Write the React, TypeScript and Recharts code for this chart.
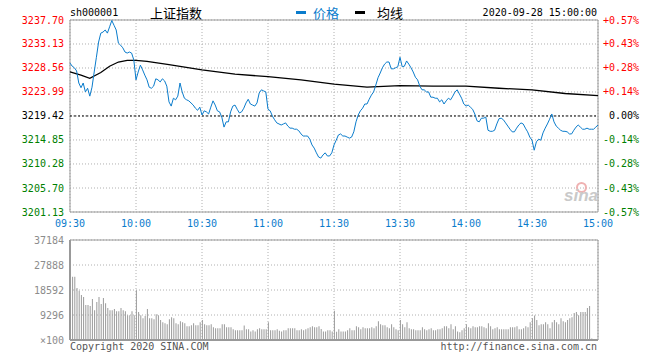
import { ComposedChart, Line, Bar, XAxis, YAxis, CartesianGrid, ReferenceLine, ReferenceArea } from 'recharts'

const MONO = '"DejaVu Sans Mono", "Liberation Mono", monospace'
const CJK = '"Noto Sans CJK SC", sans-serif'
const BLUE = '#0a7ccc'
const PRE_CLOSE = 3219.42

const priceTicks = [3201.13, 3205.7, 3210.28, 3214.85, 3219.42, 3223.99, 3228.56, 3233.13, 3237.7]
const volTicks = [0, 9296, 18592, 27888, 37184]
const timeTicks = [0, 30, 60, 90, 120, 150, 180, 210, 240]
const timeLabels = ['09:30', '10:00', '10:30', '11:00', '11:30', '13:30', '14:00', '14:30', '15:00']

// one value per minute, 09:30 .. 11:30 | 13:00 .. 15:00
const prices = [
  3229.5, 3228.9, 3228.6, 3228.0, 3225.7, 3224.8, 3225.7, 3224.0, 3224.7, 3223.2,
  3224.9, 3227.8, 3230.6, 3233.5, 3235.2, 3235.4, 3235.8, 3235.2, 3236.4, 3237.6,
  3236.7, 3235.8, 3233.3, 3232.9, 3232.4, 3231.6, 3231.4, 3231.6, 3231.4, 3230.1,
  3226.3, 3227.8, 3229.1, 3228.2, 3227.2, 3226.3, 3224.9, 3224.7, 3225.1, 3226.5,
  3226.3, 3225.9, 3226.5, 3226.1, 3225.1, 3222.1, 3221.3, 3222.8, 3222.5, 3223.2,
  3225.7, 3224.0, 3222.8, 3222.5, 3222.3, 3221.9, 3221.5, 3220.9, 3220.5, 3221.1,
  3219.6, 3220.4, 3220.2, 3219.8, 3221.1, 3222.3, 3221.5, 3220.4, 3220.2, 3219.2,
  3217.3, 3218.3, 3218.3, 3220.2, 3221.3, 3221.5, 3220.7, 3220.0, 3220.2, 3220.9,
  3221.9, 3222.6, 3221.7, 3221.5, 3221.3, 3221.9, 3223.8, 3224.4, 3224.2, 3224.0,
  3220.7, 3220.4, 3219.4, 3218.7, 3218.1, 3217.9, 3217.7, 3217.9, 3218.1, 3217.5,
  3217.1, 3217.1, 3216.9, 3216.9, 3216.6, 3216.0, 3215.6, 3215.6, 3215.6, 3215.0,
  3213.9, 3213.3, 3212.4, 3211.6, 3211.4, 3212.0, 3212.4, 3211.8, 3211.8, 3212.4,
  3213.9, 3214.8, 3215.8, 3216.0, 3215.6, 3215.6, 3215.4, 3215.2, 3215.4, 3216.4,
  3218.3, 3219.6, 3220.4, 3220.9, 3221.7, 3221.7, 3222.6, 3223.4, 3224.0, 3225.3,
  3226.7, 3227.6, 3228.6, 3229.3, 3229.7, 3229.7, 3228.4, 3228.4, 3228.6, 3228.8,
  3230.6, 3228.8, 3228.9, 3229.9, 3229.3, 3228.6, 3227.8, 3226.8, 3226.3, 3225.1,
  3224.4, 3224.4, 3224.0, 3224.0, 3223.0, 3223.0, 3222.8, 3222.8, 3222.1, 3222.5,
  3221.7, 3222.3, 3222.8, 3222.5, 3223.2, 3224.0, 3224.4, 3223.6, 3222.8, 3221.7,
  3221.3, 3221.5, 3221.1, 3220.7, 3219.8, 3218.5, 3218.3, 3219.0, 3219.0, 3219.2,
  3216.7, 3216.5, 3216.5, 3216.7, 3217.9, 3218.9, 3219.0, 3218.7, 3218.1, 3217.5,
  3216.9, 3216.4, 3216.4, 3217.1, 3217.7, 3218.1, 3217.9, 3217.1, 3216.4, 3215.4,
  3214.8, 3212.9, 3214.5, 3215.0, 3214.8, 3216.2, 3217.1, 3217.9, 3218.8, 3219.8,
  3218.3, 3217.5, 3217.1, 3216.7, 3216.5, 3216.5, 3216.4, 3216.0, 3216.0, 3216.7,
  3217.3, 3217.7, 3217.3, 3216.9, 3216.9, 3217.1, 3216.9, 3216.9, 3216.9, 3217.3,
  3217.7,
]

// volume in units of 100 shares
const volumes = [
  23000, 23500, 23500, 19300, 18300, 16700, 16000, 13000, 13000, 12600,
  15200, 11100, 14100, 16000, 13400, 15600, 13700, 11900, 11100, 11100,
  11500, 10700, 10700, 11900, 11100, 10700, 9200, 9200, 10700, 9200,
  18500, 10400, 9200, 8100, 8900, 11500, 8100, 8100, 7700, 9600,
  9200, 7400, 6600, 6200, 5900, 7700, 8500, 8100, 6200, 5900,
  7000, 6600, 6200, 5100, 5100, 5500, 6200, 5500, 5500, 6600,
  7400, 5900, 5500, 5500, 5900, 4700, 4400, 4400, 4400, 5900,
  5900, 4700, 4700, 4700, 4000, 3600, 3600, 3600, 3600, 5400,
  4000, 4000, 3200, 3600, 3200, 4000, 4400, 4000, 4000, 4000,
  6600, 3600, 3600, 3600, 4000, 3400, 3200, 3600, 3600, 4400,
  4400, 4400, 4400, 3600, 3600, 4000, 3600, 4000, 4400, 4700,
  5100, 4700, 4700, 5100, 4100, 3200, 3200, 3600, 3600, 3200,
  10900, 3100, 4000, 3200, 3200, 3200, 3600, 4400, 3600, 3600,
  5100, 4700, 4000, 4700, 4400, 4400, 4400, 4700, 4400, 5100,
  7000, 5900, 5500, 5500, 4700, 4400, 5900, 4700, 4000, 3600,
  7400, 5900, 4700, 6600, 4400, 4000, 4000, 3600, 3600, 3600,
  4700, 4000, 3600, 4000, 4400, 3600, 3600, 4000, 4000, 4400,
  5100, 5100, 4400, 5900, 4000, 5100, 3200, 2900, 3600, 4400,
  5900, 4700, 4400, 5100, 4700, 4700, 5100, 5100, 4700, 4400,
  6200, 5100, 4000, 4400, 4700, 4000, 4000, 4000, 4000, 4000,
  4700, 4700, 4700, 5100, 4000, 4000, 4400, 5100, 4700, 6600,
  8100, 9100, 7400, 5500, 5900, 5900, 6600, 5900, 4400, 6600,
  7400, 6600, 5900, 8100, 7000, 6600, 7400, 8100, 8500, 10000,
  10400, 9200, 10400, 10400, 10400, 11900, 12600, 600, 0, 0,
  0,
]

// average price line, read at these minutes
const avgIdx = [0, 5, 9, 14, 18, 22, 26, 30, 35, 45, 60, 75, 90, 105, 120, 135, 150, 165, 180, 195, 210, 225, 240]
const avgVal = [3227.8, 3227.2, 3226.6, 3227.7, 3228.9, 3229.7, 3230.0, 3230.0, 3229.8, 3229.2, 3228.2, 3227.4, 3226.9, 3226.3, 3225.5, 3224.9, 3225.2, 3225.1, 3225.1, 3224.7, 3224.4, 3223.7, 3223.3]

const rows = prices.map((p, i) => {
  const k = avgIdx.indexOf(i)
  return { t: i, price: p, vol: volumes[i], avg: k >= 0 ? avgVal[k] : null }
})

const priceColor = (v: number) => (v > PRE_CLOSE + 0.001 ? '#ff0000' : v < PRE_CLOSE - 0.001 ? '#008000' : '#000000')

const PriceTick = (p: any) => {
  const v = p.payload.value
  return (
    <text x={p.x} y={p.y} textAnchor="end" dominantBaseline="central" fill={priceColor(v)} fontSize={10} fontFamily={MONO}>
      {v.toFixed(2)}
    </text>
  )
}

const PctTick = (p: any) => {
  const v = p.payload.value
  const pct = ((v - PRE_CLOSE) / PRE_CLOSE) * 100
  const s = Math.abs(pct) < 0.005 ? '0.00%' : (pct > 0 ? '+' : '') + pct.toFixed(2) + '%'
  return (
    <text x={p.x + 36} y={p.y} textAnchor="end" dominantBaseline="central" fill={priceColor(v)} fontSize={10} fontFamily={MONO}>
      {s}
    </text>
  )
}

const VolTick = (p: any) => {
  const v = p.payload.value
  return (
    <text x={p.x} y={p.y} textAnchor="end" dominantBaseline="central" fill="#8c8c8c" fontSize={10} fontFamily={MONO}>
      {v === 0 ? '×100' : String(v)}
    </text>
  )
}

const abs = (left: number, top: number, extra: any = {}) => ({ position: 'absolute' as const, left, top, whiteSpace: 'nowrap' as const, ...extra })

export default function App() {
  return (
    <div style={{ position: 'absolute', left: 0, top: 0, width: 660, height: 360, background: '#fff', fontFamily: MONO, overflow: 'hidden' }}>
      <div style={{ position: 'absolute', left: 0, top: 0 }}>
        <ComposedChart width={660} height={232} data={rows} margin={{ top: 20, right: 0, bottom: 0, left: 0 }}>
          <CartesianGrid yAxisId="l" stroke="#b0b0b0" strokeDasharray="1 2" />
          <XAxis
            dataKey="t"
            type="number"
            domain={[0, 240]}
            ticks={timeTicks}
            interval={0}
            tickFormatter={(v: number) => timeLabels[timeTicks.indexOf(v)]}
            axisLine={false}
            tickLine={false}
            tickSize={0}
            tickMargin={8}
            height={20}
            tick={{ fill: BLUE, fontSize: 10, fontFamily: MONO }}
          />
          <YAxis yAxisId="l" domain={[3201.13, 3237.7]} ticks={priceTicks} interval={0} width={70} axisLine={false} tickLine={false} tickSize={0} tickMargin={6} tick={PriceTick} allowDataOverflow />
          <YAxis yAxisId="r" orientation="right" domain={[3201.13, 3237.7]} ticks={priceTicks} interval={0} width={62} axisLine={false} tickLine={false} tickSize={0} tickMargin={5} tick={PctTick} allowDataOverflow />
          <ReferenceArea yAxisId="l" x1={0} x2={240} y1={3201.13} y2={3237.7} fill="none" stroke="#999" />
          <ReferenceLine yAxisId="l" y={PRE_CLOSE} stroke="#000" strokeDasharray="2 2" />
          <Line yAxisId="r" dataKey="avg" stroke="#000" strokeWidth={1.3} dot={false} connectNulls isAnimationActive={false} />
          <Line yAxisId="l" dataKey="price" stroke={BLUE} strokeWidth={1} dot={false} isAnimationActive={false} />
        </ComposedChart>
      </div>

      <div style={{ position: 'absolute', left: 0, top: 230 }}>
        <ComposedChart width={660} height={118} data={rows} margin={{ top: 10, right: 62, bottom: 8, left: 0 }}>
          <CartesianGrid stroke="#b0b0b0" strokeDasharray="1 2" />
          <XAxis dataKey="t" type="number" domain={[0, 240]} ticks={timeTicks} interval={0} hide />
          <YAxis domain={[0, 37184]} ticks={volTicks} interval={0} width={70} axisLine={false} tickLine={false} tickSize={0} tickMargin={6} tick={VolTick} allowDataOverflow />
          <Bar dataKey="vol" fill="#9a9a9a" barSize={1} isAnimationActive={false} />
          <ReferenceArea x1={0} x2={240} y1={0} y2={37184} fill="none" stroke="#999" />
          <ReferenceLine x={0} stroke="#999" strokeWidth={2} />
          <ReferenceLine y={0} stroke="#999" strokeWidth={2} />
        </ComposedChart>
      </div>

      {/* header */}
      <div style={abs(70, 7, { fontSize: 10, lineHeight: '12px', color: '#000' })}>sh000001</div>
      <div style={abs(150, 4, { fontSize: 13, lineHeight: '18px', fontFamily: CJK, color: '#000' })}>上证指数</div>
      <div style={abs(296, 11, { width: 10, height: 3, background: BLUE })} />
      <div style={abs(313, 4, { fontSize: 13, lineHeight: '18px', fontFamily: CJK, color: BLUE })}>价格</div>
      <div style={abs(355, 11, { width: 10, height: 3, background: '#000' })} />
      <div style={abs(377, 4, { fontSize: 13, lineHeight: '18px', fontFamily: CJK, color: '#000' })}>均线</div>
      <div style={{ position: 'absolute', right: 63, top: 7, fontSize: 10, lineHeight: '12px', color: '#000', whiteSpace: 'nowrap' }}>2020-09-28 15:00:00</div>

      {/* watermark */}
      <div style={abs(576, 182, { width: 7, height: 7, borderRadius: '50%', border: '2px solid #efb2b2' })} />
      <div style={abs(564, 186, { fontSize: 17, lineHeight: '20px', fontWeight: 'bold', fontStyle: 'italic', fontFamily: '"Liberation Sans", sans-serif', color: '#c9c9c9' })}>sina</div>

      {/* footer */}
      <div style={abs(70, 341, { fontSize: 10, lineHeight: '12px', color: '#555' })}>Copyright 2020 SINA.COM</div>
      <div style={{ position: 'absolute', right: 63, top: 341, fontSize: 10, lineHeight: '12px', color: '#555', whiteSpace: 'nowrap' }}>http://finance.sina.com.cn</div>
    </div>
  )
}
